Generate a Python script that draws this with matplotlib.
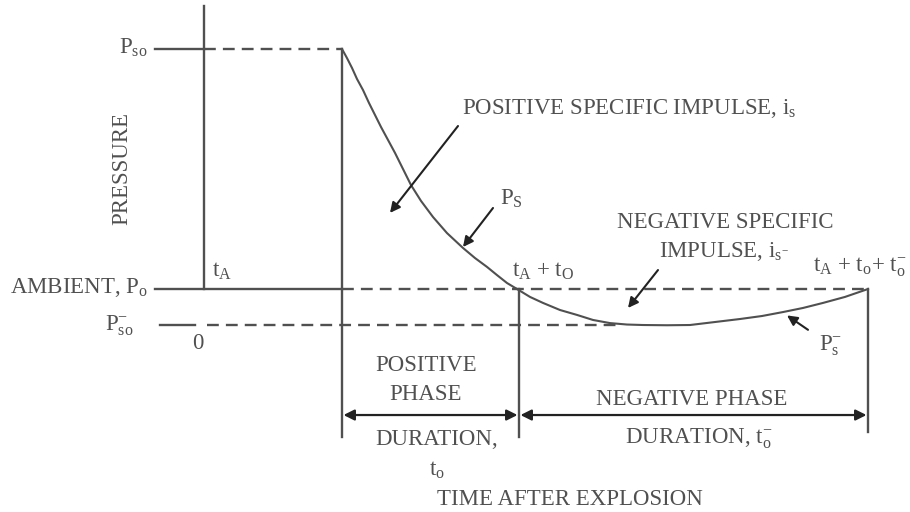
import matplotlib
matplotlib.use("Agg")
import matplotlib.pyplot as plt

# ---- data (time in arbitrary units, pressure in % of peak overpressure) ----
T_ARRIVAL = 13.8          # t_A
T_POS_END = 31.5          # t_A + t_o
T_NEG_END = 66.4          # t_A + t_o + t_o^-
P_PEAK = 100.0            # P_so
P_AMBIENT = 0.0           # P_o
P_NEG_PEAK = -15.0        # P_so^-

pos_time = [13.8, 14.3, 14.8, 15.3, 15.9, 16.5, 17.1, 17.7, 18.4, 19.1, 19.9,
            20.7, 21.7, 22.9, 24.3, 25.9, 27.1, 28.3, 29.3, 30.3, 31.3]
pos_pressure = [100.0, 96.2, 92.1, 87.5, 82.9, 77.5, 72.5, 67.5, 62.1, 56.7, 50.0,
                43.3, 36.7, 30.0, 23.3, 17.1, 12.9, 9.2, 5.8, 2.5, 0.0]
neg_time = [31.3, 32.6, 33.9, 35.6, 37.3, 38.9, 40.6, 42.3, 43.9, 46.3,
            48.6, 51.1, 53.6, 55.8, 57.9, 59.9, 61.9, 64.1, 66.4]
neg_pressure = [0.0, -3.3, -5.8, -8.75, -10.8, -12.9, -14.2, -14.8, -15.0, -15.1,
                -15.0, -13.75, -12.5, -11.25, -9.6, -7.9, -5.8, -3.3, 0.0]

LC = "#505050"
TC = "#505050"
AC = "#222222"
FS = 16.5

plt.rcParams["font.family"] = ["Liberation Serif", "DejaVu Serif"]
plt.rcParams["mathtext.fontset"] = "custom"
plt.rcParams["mathtext.rm"] = "Liberation Serif"
plt.rcParams["mathtext.it"] = "Liberation Serif"

fig = plt.figure(figsize=(9.1, 5.12), dpi=100)
ax = fig.add_axes([0, 0, 1, 1])
ax.set_xlim(-20.4, 70.6)
ax.set_ylim(-92.9, 120.4)
ax.axis("off")

lw = 1.7
dash = (5, 3)

# pressure axis
ax.plot([0, 0], [118, P_AMBIENT], color=LC, lw=lw)
# peak level
ax.plot([-4.9, 0], [P_PEAK, P_PEAK], color=LC, lw=lw)
ax.plot([0, T_ARRIVAL], [P_PEAK, P_PEAK], color=LC, lw=lw, dashes=dash)
# ambient level
ax.plot([-4.9, T_ARRIVAL], [P_AMBIENT, P_AMBIENT], color=LC, lw=lw)
ax.plot([T_ARRIVAL, T_NEG_END], [P_AMBIENT, P_AMBIENT], color=LC, lw=lw, dashes=dash)
# negative peak level
ax.plot([-4.4, -0.9], [P_NEG_PEAK, P_NEG_PEAK], color=LC, lw=lw)
ax.plot([0.3, 41.5], [P_NEG_PEAK, P_NEG_PEAK], color=LC, lw=lw, dashes=dash)

# vertical markers
ax.plot([T_ARRIVAL, T_ARRIVAL], [P_PEAK, -61.5], color=LC, lw=lw)
ax.plot([T_POS_END, T_POS_END], [P_AMBIENT, -61.5], color=LC, lw=lw)
ax.plot([T_NEG_END, T_NEG_END], [P_AMBIENT, -59.5], color=LC, lw=lw)

# pressure-time curve
ax.plot(pos_time, pos_pressure, color=LC, lw=1.5)
ax.plot(neg_time, neg_pressure, color=LC, lw=1.5)

# duration arrows
yarr = -52.5
for a, b in [(T_ARRIVAL, T_POS_END), (T_POS_END, T_NEG_END)]:
    ax.annotate("", xy=(b - 0.15, yarr), xytext=(a + 0.15, yarr),
                arrowprops=dict(arrowstyle="<|-|>", color=AC, lw=1.6,
                                mutation_scale=16, shrinkA=0, shrinkB=0))

def pointer(x0, y0, x1, y1):
    ax.annotate("", xy=(x1, y1), xytext=(x0, y0),
                arrowprops=dict(arrowstyle="-|>", color=AC, lw=1.5,
                                mutation_scale=15, shrinkA=0, shrinkB=0))

pointer(25.4, 67.9, 18.6, 31.7)
pointer(28.9, 33.75, 25.9, 17.5)
pointer(45.4, 7.9, 42.4, -7.9)
pointer(60.4, -17.0, 58.3, -11.0)

def txt(x, y, s, ha="left", va="center", **kw):
    ax.text(x, y, s, ha=ha, va=va, fontsize=FS, color=TC, **kw)

txt(-5.6, 100.5, r"P$_{\rm so}$", ha="right")
txt(-8.2, 50, "PRESSURE", ha="center", rotation=90)
txt(-5.6, 0.5, r"AMBIENT, P$_{\rm o}$", ha="right")
txt(-7.0, -15.5, r"P$^{-}_{\rm so}$", ha="right")
txt(-0.6, -22.5, "0", ha="center")
txt(0.8, 7.5, r"t$_{\rm A}$")
txt(25.8, 75.4, r"POSITIVE SPECIFIC IMPULSE, i$_{\rm s}$")
txt(29.6, 37.5, r"P$_{\rm S}$")
txt(30.8, 7.5, r"t$_{\rm A}$ + t$_{\rm O}$")
txt(52.1, 27.9, "NEGATIVE SPECIFIC", ha="center")
txt(52.0, 15.8, r"IMPULSE, i$_{\rm s^{-}}$", ha="center")
txt(60.9, 9.2, r"t$_{\rm A}$ + t$_{\rm o}$+ t$_{\rm o}^{-}$")
txt(61.5, -23.5, r"P$_{\rm s}^{-}$")

txt(22.2, -32, "POSITIVE", ha="center")
txt(22.2, -44, "PHASE", ha="center")
txt(48.8, -46, "NEGATIVE PHASE", ha="center")
txt(23.3, -62.5, "DURATION,", ha="center")
txt(23.3, -75.5, r"t$_{\rm o}$", ha="center")
txt(49.5, -62.5, r"DURATION, t$_{\rm o}^{-}$", ha="center")
txt(36.6, -92.2, "TIME AFTER EXPLOSION", ha="center", va="bottom")

fig.savefig("out.png", dpi=100)
